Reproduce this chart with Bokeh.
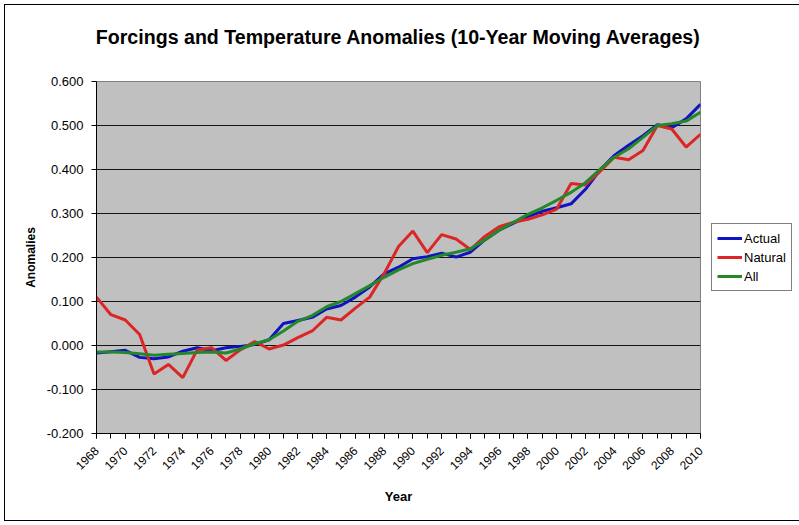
import math
from bokeh.plotting import figure
from bokeh.models import (Range1d, FixedTicker, NumeralTickFormatter, Legend, LegendItem,
                          Title, ColumnDataSource)
from bokeh.embed import file_html
from bokeh.resources import INLINE

years = list(range(1968, 2011))

actual = [-0.017, -0.014, -0.011, -0.027, -0.030, -0.026, -0.013, -0.005, -0.012, -0.005,
          -0.002, 0.002, 0.013, 0.050, 0.057, 0.064, 0.083, 0.091, 0.110, 0.133,
          0.163, 0.178, 0.197, 0.202, 0.210, 0.201, 0.212, 0.240, 0.262, 0.278,
          0.293, 0.305, 0.313, 0.322, 0.355, 0.398, 0.432, 0.455, 0.477, 0.502,
          0.495, 0.515, 0.548]

natural = [0.110, 0.070, 0.058, 0.025, -0.065, -0.043, -0.073, -0.010, -0.005, -0.034,
           -0.010, 0.009, -0.008, 0.001, 0.018, 0.033, 0.064, 0.058, 0.085, 0.110,
           0.163, 0.225, 0.260, 0.211, 0.252, 0.242, 0.218, 0.248, 0.270, 0.280,
           0.287, 0.297, 0.310, 0.368, 0.365, 0.395, 0.428, 0.422, 0.443, 0.500,
           0.492, 0.451, 0.480]

all_forcings = [-0.015, -0.015, -0.016, -0.019, -0.022, -0.020, -0.018, -0.016, -0.015, -0.017,
                -0.008, 0.004, 0.013, 0.033, 0.055, 0.068, 0.088, 0.100, 0.118, 0.136,
                0.155, 0.172, 0.186, 0.196, 0.205, 0.212, 0.220, 0.240, 0.262, 0.280,
                0.298, 0.313, 0.330, 0.348, 0.370, 0.400, 0.428, 0.447, 0.473, 0.500,
                0.504, 0.510, 0.530]

series_names = ["Actual", "Natural", "All"]
series_colors = ["#0F14C0", "#DC2626", "#24882A"]
y_ticks = [-0.2, -0.1, 0.0, 0.1, 0.2, 0.3, 0.4, 0.5, 0.6]
x_label_years = list(range(1968, 2011, 2))

FONT = "Liberation Sans"

p = figure(frame_width=604, frame_height=352, output_backend="svg", toolbar_location=None,
           x_range=Range1d(1968, 2010), y_range=Range1d(-0.2, 0.6),
           min_border_left=91, min_border_right=94, min_border_top=76, min_border_bottom=87,
           styles={"border": "1px solid black", "margin": "4px"})

p.background_fill_color = "#C0C0C0"
p.border_fill_color = "white"
p.outline_line_color = "#808080"
p.outline_line_width = 1

# a blank second line keeps the title higher above the plot area
t = Title(text="Forcings and Temperature Anomalies (10-Year Moving Averages)\n ",
          align="center", text_font=FONT, text_font_size="19.6px", text_font_style="bold",
          text_color="black", standoff=24)
p.add_layout(t, "above")

src = ColumnDataSource(dict(year=years, actual=actual, natural=natural, all=all_forcings))
renderers = []
for col, name, color in zip(["actual", "natural", "all"], series_names, series_colors):
    r = p.line("year", col, source=src, line_color=color, line_width=3)
    renderers.append(r)

# axes
p.xaxis.ticker = FixedTicker(ticks=x_label_years, minor_ticks=years)
p.yaxis.ticker = FixedTicker(ticks=y_ticks)
p.yaxis.formatter = NumeralTickFormatter(format="0.000")
p.xaxis.major_label_orientation = math.pi / 4

for ax in (p.xaxis[0], p.yaxis[0]):
    ax.axis_line_color = "black"
    ax.major_tick_line_color = "black"
    ax.minor_tick_line_color = "black"
    ax.major_tick_out = 5
    ax.major_tick_in = 0
    ax.minor_tick_out = 5
    ax.minor_tick_in = 0
    ax.major_label_text_font = FONT
    ax.major_label_text_font_size = "12px"
    ax.major_label_text_color = "black"
    ax.axis_label_text_font = FONT
    ax.axis_label_text_font_style = "bold"
    ax.axis_label_text_color = "black"

p.yaxis.major_label_text_font_size = "13px"
p.yaxis.major_label_standoff = 8
p.yaxis.axis_label = "Anomalies"
p.yaxis.axis_label_text_font_size = "12px"
p.yaxis.axis_label_standoff = 6
p.xaxis.axis_label = "Year"
p.xaxis.axis_label_text_font_size = "13px"
p.xaxis.axis_label_standoff = 12
p.xaxis.major_label_standoff = 10

p.xgrid.grid_line_color = None
p.ygrid.grid_line_color = "black"
p.ygrid.grid_line_width = 1
p.ygrid.grid_line_alpha = 0.9

legend = Legend(items=[LegendItem(label=n, renderers=[r]) for n, r in zip(series_names, renderers)],
                location="center_left", orientation="vertical",
                label_text_font=FONT, label_text_font_size="13px", label_text_color="black",
                glyph_width=25, glyph_height=18, label_height=18, label_standoff=2,
                spacing=1, padding=5, margin=11,
                border_line_color="black", border_line_width=1,
                background_fill_color="white", background_fill_alpha=1)
p.add_layout(legend, "right")

open("out.html", "w").write(file_html(p, INLINE))
